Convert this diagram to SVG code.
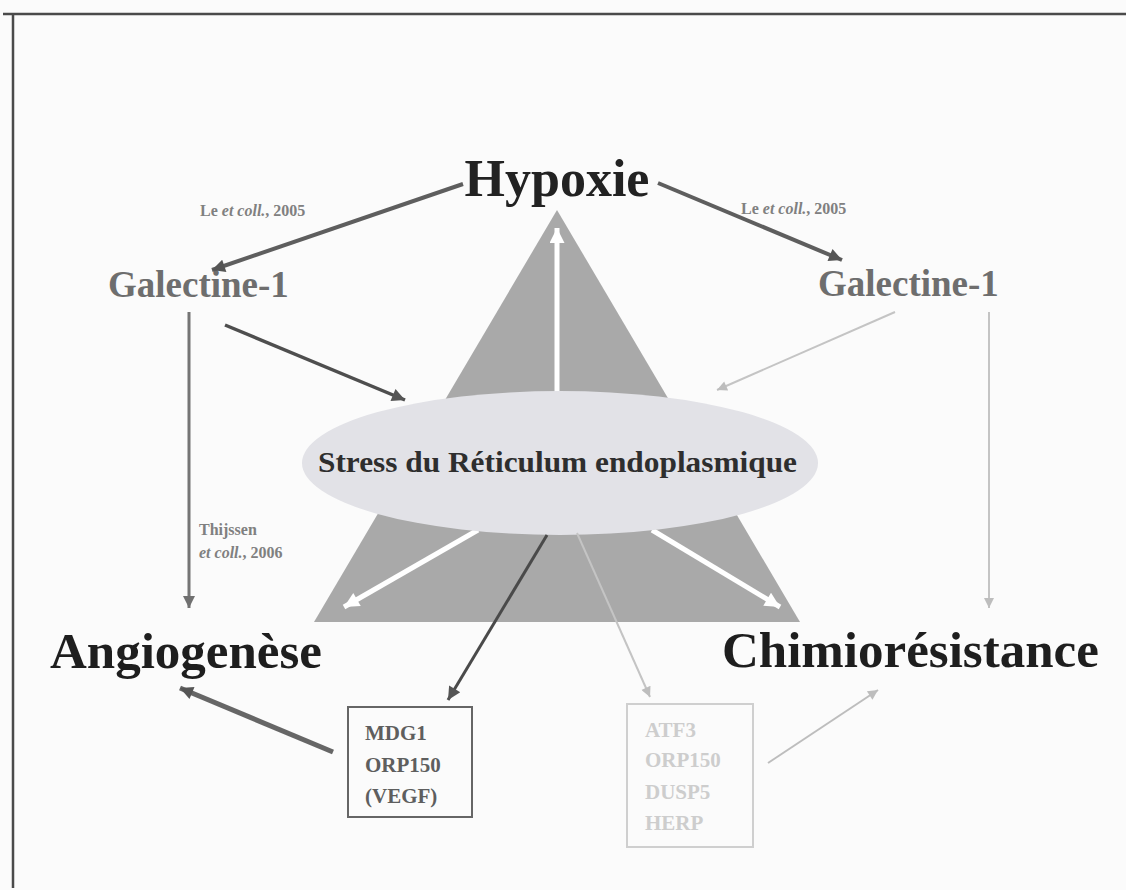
<svg xmlns="http://www.w3.org/2000/svg" width="1126" height="890" viewBox="0 0 1126 890">
<style>
.t{font-family:"Liberation Serif","Times New Roman",serif;font-weight:bold}
.big{font-size:51px;fill:#1e1e1e}
.gal{font-size:37px;fill:#6e6e6e}
.ref{font-size:16px;fill:#808080}
.box{font-size:21px}
</style>
<defs>
<marker id="mDark" viewBox="0 0 10 10" refX="10" refY="5" markerUnits="userSpaceOnUse" markerWidth="18" markerHeight="13" orient="auto"><path d="M0,0L10,5L0,10z" fill="#555"/></marker>
<marker id="mMid" viewBox="0 0 10 10" refX="10" refY="5" markerUnits="userSpaceOnUse" markerWidth="16" markerHeight="12" orient="auto"><path d="M0,0L10,5L0,10z" fill="#707070"/></marker>
<marker id="mLight" viewBox="0 0 10 10" refX="10" refY="5" markerUnits="userSpaceOnUse" markerWidth="14" markerHeight="10" orient="auto"><path d="M0,0L10,5L0,10z" fill="#bdbdbd"/></marker>
<marker id="mWhite" viewBox="0 0 10 10" refX="10" refY="5" markerUnits="userSpaceOnUse" markerWidth="18" markerHeight="15" orient="auto"><path d="M0,0L10,5L0,10z" fill="#ffffff"/></marker>
</defs>
<rect width="1126" height="890" fill="#fbfbfb"/>
<path d="M3,14H1126M13,14V888" fill="none" stroke="#4a4a4a" stroke-width="2.5"/>

<g id="triangle">
<polygon points="557,210 314,622 800,622" fill="#a9a9a9"/>
</g>
<g id="internal-arrows" fill="none" stroke="#ffffff" stroke-width="5">
<path d="M557,395V228" marker-end="url(#mWhite)"/>
<path d="M478,530L344,607" marker-end="url(#mWhite)"/>
<path d="M652,530L780,607" marker-end="url(#mWhite)"/>
</g>
<g id="er-stress">
<ellipse cx="560" cy="463" rx="258" ry="72" fill="#e2e2e7"/>
<text class="t" x="557.5" y="472" font-size="29" fill="#2e2e2e" text-anchor="middle" textLength="479" lengthAdjust="spacingAndGlyphs">Stress du Réticulum endoplasmique</text>
</g>

<g id="hypoxie"><text class="t" x="557" y="196" font-size="52" fill="#222" text-anchor="middle">Hypoxie</text></g>
<g id="galectine-left"><text class="t gal" x="108" y="297">Galectine-1</text></g>
<g id="galectine-right"><text class="t gal" x="818" y="296">Galectine-1</text></g>
<g id="angiogenese"><text class="t big" x="50" y="668">Angiogenèse</text></g>
<g id="chimioresistance"><text class="t big" x="722" y="667">Chimiorésistance</text></g>
<g id="box-mdg1">
<rect x="348" y="707" width="124" height="110" fill="none" stroke="#666" stroke-width="2"/>
<text class="t box" fill="#5e5e5e"><tspan x="365" y="740">MDG1</tspan><tspan x="365" y="772">ORP150</tspan><tspan x="365" y="803">(VEGF)</tspan></text>
</g>
<g id="box-atf3">
<rect x="627" y="704" width="126" height="143" fill="none" stroke="#cfcfcf" stroke-width="2"/>
<text class="t box" fill="#cdcdcd" font-weight="normal"><tspan x="645" y="737">ATF3</tspan><tspan x="645" y="767">ORP150</tspan><tspan x="645" y="799">DUSP5</tspan><tspan x="645" y="830">HERP</tspan></text>
</g>

<g id="labels">
<text class="t ref" x="200" y="216">Le <tspan font-style="italic">et coll.</tspan>, 2005</text>
<text class="t ref" x="741" y="214">Le <tspan font-style="italic">et coll.</tspan>, 2005</text>
<text class="t ref" x="199" y="535" fill="#8a8a8a">Thijssen</text>
<text class="t ref" x="199" y="558" fill="#8a8a8a"><tspan font-style="italic">et coll.</tspan>, 2006</text>
</g>

<g id="connectors" fill="none">
<path d="M463,184L212,270" stroke="#5e5e5e" stroke-width="4" marker-end="url(#mDark)"/>
<path d="M658,183L842,260" stroke="#5e5e5e" stroke-width="4" marker-end="url(#mDark)"/>
<path d="M225,325L405,400" stroke="#4e4e4e" stroke-width="3.5" marker-end="url(#mDark)"/>
<path d="M895,312L717,390" stroke="#c4c4c4" stroke-width="2" marker-end="url(#mLight)"/>
<path d="M189,312V608" stroke="#757575" stroke-width="3" marker-end="url(#mMid)"/>
<path d="M989,312V608" stroke="#c4c4c4" stroke-width="2" marker-end="url(#mLight)"/>
<path d="M547,535L448,700" stroke="#4a4a4a" stroke-width="3" marker-end="url(#mDark)"/>
<path d="M577,533L650,697" stroke="#c4c4c4" stroke-width="2" marker-end="url(#mLight)"/>
<path d="M333,752L180,688" stroke="#666" stroke-width="5" marker-end="url(#mDark)"/>
<path d="M768,763L878,690" stroke="#bdbdbd" stroke-width="2" marker-end="url(#mLight)"/>
</g>
</svg>
